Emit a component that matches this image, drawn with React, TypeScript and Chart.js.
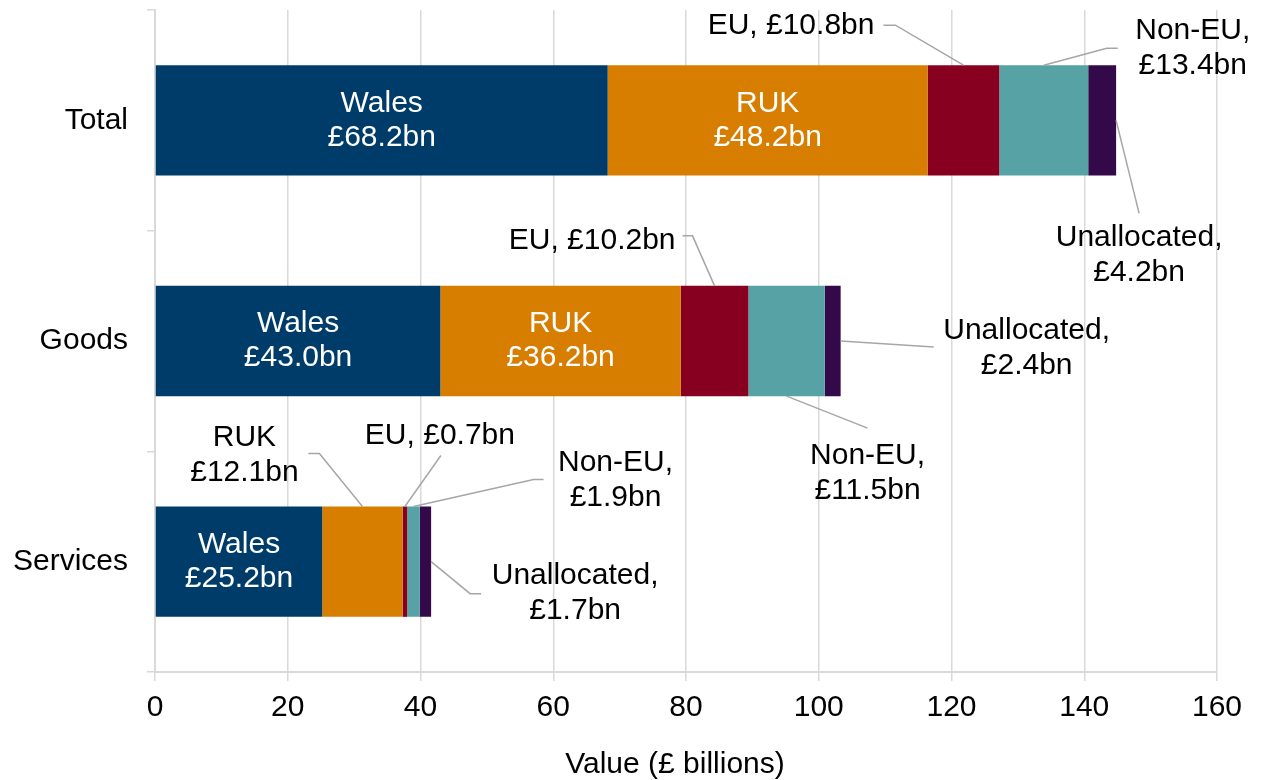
import React, { useEffect, useRef } from "react";
import { Chart, registerables } from "chart.js";

Chart.register(...registerables);

const categories = ["Total", "Goods", "Services"];
const seriesNames = ["Wales", "RUK", "EU", "Non-EU", "Unallocated"];
const walesValues = [68.2, 43.0, 25.2];
const rukValues = [48.2, 36.2, 12.1];
const euValues = [10.8, 10.2, 0.7];
const nonEuValues = [13.4, 11.5, 1.9];
const unallocatedValues = [4.2, 2.4, 1.7];
const xMin = 0;
const xMax = 160;
const xStep = 20;
const xTitle = "Value (£ billions)";

const seriesValues = [walesValues, rukValues, euValues, nonEuValues, unallocatedValues];
const seriesColors = ["#003C69", "#D77D00", "#870020", "#57A2A5", "#33094A"];

const FONT = '"Liberation Sans", Arial, sans-serif';
const FS = 30;
const GRID = "#D9D9D9";
const LEADER = "#A6A6A6";

type Ann = {
  ds: number;
  cat: number;
  anchor: "top" | "bottom" | "end";
  pts: [number, number][];
  tx: number;
  ty: number;
  align: CanvasTextAlign;
  lines: 1 | 2;
  comma: boolean;
};

const outsideLabels: Ann[] = [
  { ds: 2, cat: 0, anchor: "top", pts: [[-68, -40], [-80, -40]], tx: -89, ty: -39, align: "right", lines: 1, comma: true },
  { ds: 3, cat: 0, anchor: "top", pts: [[63, -17], [74, -17]], tx: 149, ty: -34, align: "center", lines: 2, comma: true },
  { ds: 4, cat: 0, anchor: "end", pts: [[23, 93]], tx: 23, ty: 117, align: "center", lines: 2, comma: true },
  { ds: 2, cat: 1, anchor: "top", pts: [[-22, -50], [-32, -50]], tx: -39, ty: -45, align: "right", lines: 1, comma: true },
  { ds: 3, cat: 1, anchor: "bottom", pts: [[81, 32]], tx: 81, ty: 60, align: "center", lines: 2, comma: true },
  { ds: 4, cat: 1, anchor: "end", pts: [[93, 6]], tx: 186, ty: -10, align: "center", lines: 2, comma: true },
  { ds: 1, cat: 2, anchor: "top", pts: [[-43, -53], [-54, -53]], tx: -118, ty: -69, align: "center", lines: 2, comma: false },
  { ds: 2, cat: 2, anchor: "top", pts: [[36, -51]], tx: 35, ty: -71, align: "center", lines: 1, comma: true },
  { ds: 3, cat: 2, anchor: "top", pts: [[120, -27], [130, -27]], tx: 202, ty: -44, align: "center", lines: 2, comma: true },
  { ds: 4, cat: 2, anchor: "end", pts: [[39, 32], [50, 32]], tx: 144, ty: 14, align: "center", lines: 2, comma: true },
];

const insideLabels: [number, number][] = [
  [0, 0], [0, 1], [0, 2], [1, 0], [1, 1],
];

const money = (v: number) => `£${v.toFixed(1)}bn`;

const labelPlugin = {
  id: "leaderLabels",
  afterDatasetsDraw(chart: any) {
    const ctx = chart.ctx as CanvasRenderingContext2D;
    ctx.save();
    ctx.font = `${FS}px ${FONT}`;
    ctx.textBaseline = "middle";

    ctx.fillStyle = "#FFFFFF";
    ctx.textAlign = "center";
    for (const [ds, cat] of insideLabels) {
      const el = chart.getDatasetMeta(ds).data[cat];
      const p = el.getProps(["x", "base", "y"], true);
      const cx = (p.x + p.base) / 2;
      ctx.fillText(seriesNames[ds], cx, p.y - 17);
      ctx.fillText(money(seriesValues[ds][cat]), cx, p.y + 17);
    }

    for (const a of outsideLabels) {
      const el = chart.getDatasetMeta(a.ds).data[a.cat];
      const p = el.getProps(["x", "base", "y", "height"], true);
      let ax: number, ay: number;
      if (a.anchor === "end") {
        ax = p.x;
        ay = p.y;
      } else {
        ax = (p.x + p.base) / 2;
        ay = a.anchor === "top" ? p.y - p.height / 2 : p.y + p.height / 2;
      }
      ctx.strokeStyle = LEADER;
      ctx.lineWidth = 1.5;
      ctx.beginPath();
      ctx.moveTo(ax, ay);
      for (const [dx, dy] of a.pts) ctx.lineTo(ax + dx, ay + dy);
      ctx.stroke();

      ctx.fillStyle = "#000000";
      ctx.textAlign = a.align;
      const name = seriesNames[a.ds] + (a.comma ? "," : "");
      const val = money(seriesValues[a.ds][a.cat]);
      if (a.lines === 1) {
        ctx.fillText(`${name} ${val}`, ax + a.tx, ay + a.ty);
      } else {
        ctx.fillText(name, ax + a.tx, ay + a.ty);
        ctx.fillText(val, ax + a.tx, ay + a.ty + 35);
      }
    }

    const xs = chart.scales.x;
    ctx.fillStyle = "#000000";
    ctx.textAlign = "center";
    ctx.textBaseline = "alphabetic";
    ctx.fillText(xTitle, (xs.left + xs.right) / 2 - 11, 773);
    ctx.restore();
  },
};

export default function App() {
  const ref = useRef<HTMLCanvasElement | null>(null);

  useEffect(() => {
    if (!ref.current) return;
    const chart = new Chart(ref.current, {
      type: "bar",
      data: {
        labels: categories,
        datasets: seriesNames.map((name, i) => ({
          label: name,
          data: seriesValues[i],
          backgroundColor: seriesColors[i],
          borderWidth: 0,
          barPercentage: 0.5,
          categoryPercentage: 1,
        })),
      },
      options: {
        indexAxis: "y",
        responsive: false,
        animation: false,
        devicePixelRatio: 1,
        layout: { padding: { top: 10, right: 44, left: 0, bottom: 0 } },
        plugins: {
          legend: { display: false },
          tooltip: { enabled: false },
          title: { display: false },
        },
        scales: {
          x: {
            type: "linear",
            stacked: true,
            min: xMin,
            max: xMax,
            ticks: {
              stepSize: xStep,
              color: "#000000",
              padding: 9,
              font: { family: FONT, size: FS },
            },
            grid: {
              color: GRID,
              lineWidth: 1.5,
              drawOnChartArea: true,
              drawTicks: true,
              tickLength: 9,
            },
            border: { display: true, color: GRID, width: 2 },
            afterFit: (s: any) => {
              s.height = 108;
            },
          },
          y: {
            type: "category",
            stacked: true,
            ticks: {
              color: "#000000",
              padding: 19,
              font: { family: FONT, size: FS },
            },
            grid: {
              color: GRID,
              lineWidth: 1.5,
              drawOnChartArea: false,
              drawTicks: true,
              tickLength: 8,
              offset: true,
            },
            border: { display: true, color: GRID, width: 2 },
            afterFit: (s: any) => {
              s.width = 155;
              s.paddingTop = 0;
              s.paddingBottom = 0;
            },
          },
        },
      } as any,
      plugins: [labelPlugin],
    });
    return () => chart.destroy();
  }, []);

  return (
    <div style={{ position: "fixed", left: 0, top: 0, width: 1261, height: 780, background: "#FFFFFF" }}>
      <canvas ref={ref} width={1261} height={780} style={{ display: "block", width: 1261, height: 780 }} />
    </div>
  );
}
